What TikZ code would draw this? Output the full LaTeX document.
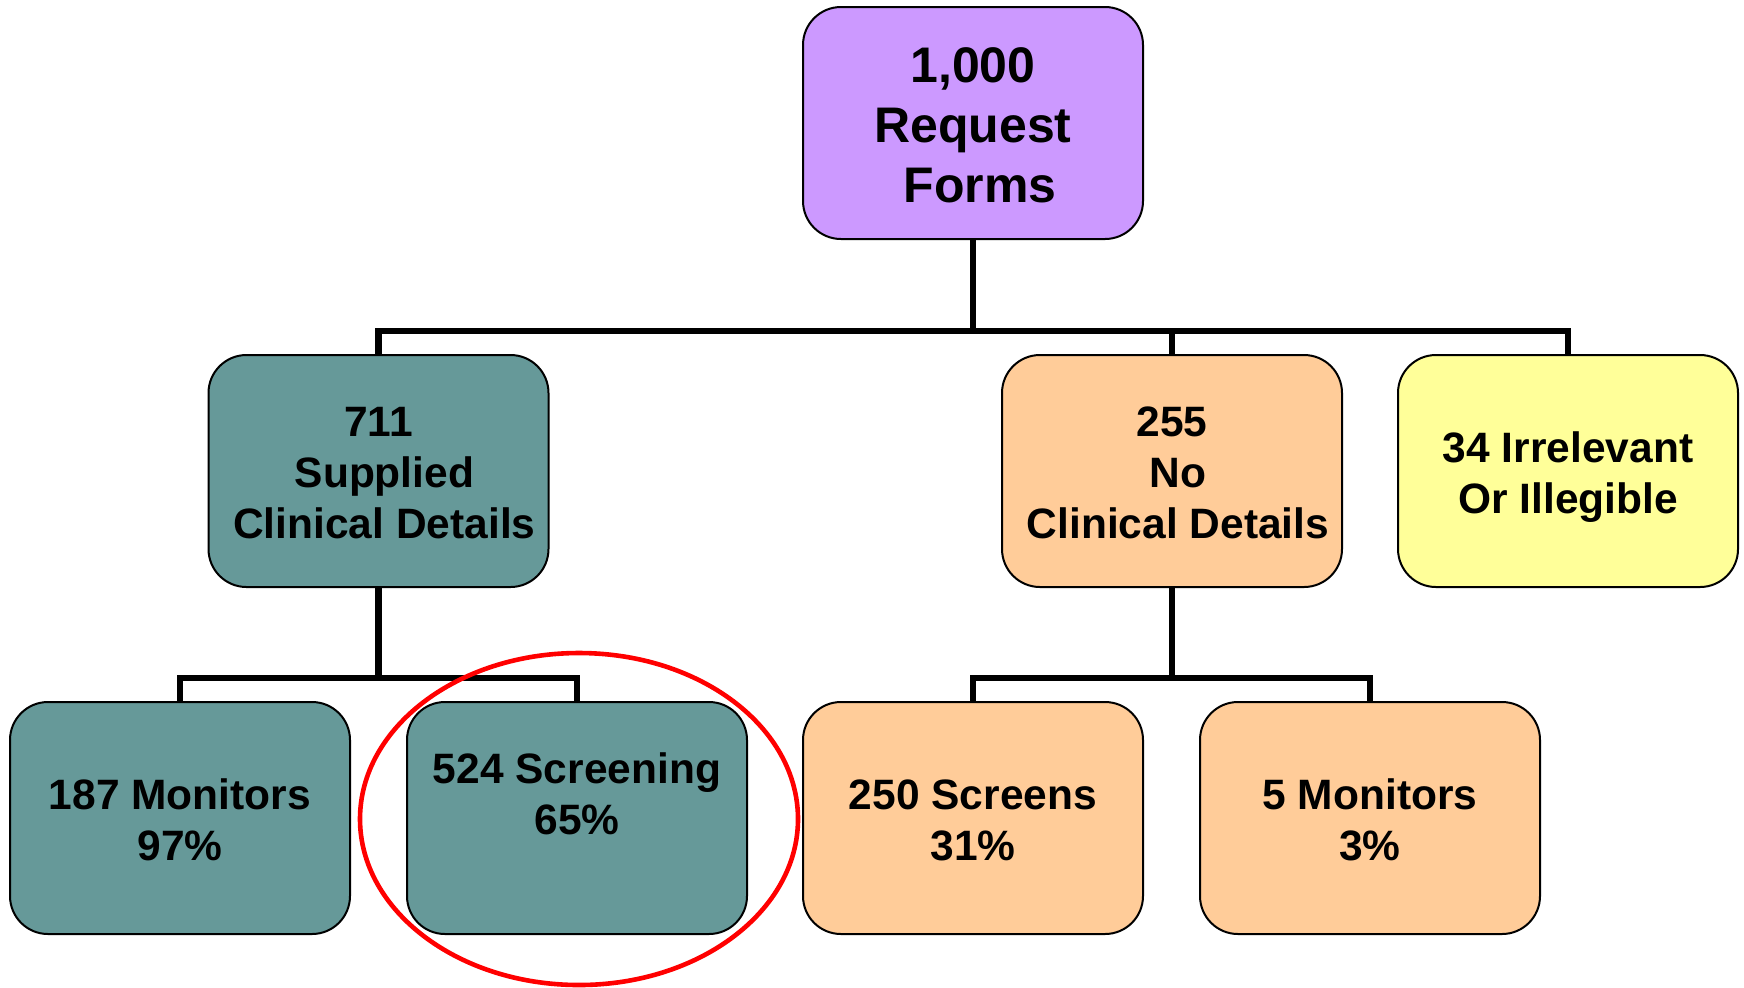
\documentclass[tikz,border=0pt]{standalone}
\usepackage{fontspec}
\setmainfont{Liberation Sans}
\usetikzlibrary{shapes.geometric}
\definecolor{cpurple}{HTML}{CC99FF}
\definecolor{cteal}{HTML}{669999}
\definecolor{cpeach}{HTML}{FFCC99}
\definecolor{cyellow}{HTML}{FFFF99}
\definecolor{cred}{HTML}{FF0000}
\newcommand{\firstup}{\rule{0pt}{0.79em}}
\begin{document}
\begin{tikzpicture}[x=0.5pt,y=-0.5pt,
  box/.style={draw=black, line width=1pt, rounded corners=19pt,
    minimum width=170pt, minimum height=116pt, align=center, inner sep=0pt,
    font=\fontsize{21.25pt}{25.5pt}\selectfont\bfseries},
  bigbox/.style={box, font=\fontsize{25pt}{30pt}\selectfont\bfseries},
  conn/.style={line width=3.3pt, line join=miter},
  hilite/.style={ellipse, draw=cred, line width=2.3pt,
    minimum width=219pt, minimum height=166pt, inner sep=0pt}]
\useasboundingbox (0,0) rectangle (1744,987);
\coordinate (busA) at (0,331);
\coordinate (busB) at (0,678);

\node[bigbox, fill=cpurple] (req) at (973,123) {\firstup1,000\\Request\\\hspace*{0.278em}Forms};
\node[box, fill=cteal] (sup) at (378.5,471) {\firstup711\\\hspace*{0.278em}Supplied\\\hspace*{0.278em}Clinical Details};
\node[box, fill=cpeach] (noc) at (1172,471) {\firstup255\\\hspace*{0.278em}No\\\hspace*{0.278em}Clinical Details};
\node[box, fill=cyellow] (irr) at (1568,471) {\firstup34 Irrelevant\\Or Ille\smash{g}ible};
\node[box, fill=cteal] (mon) at (180,818) {\firstup187 Monitors\\97\%};
\node[box, fill=cteal] (scr) at (577,818) {\firstup524 Screening\\65\%\\\mbox{}};
\node[box, fill=cpeach] (scs) at (973,818) {\firstup250 Screens\\31\%};
\node[box, fill=cpeach] (fmon) at (1370,818) {\firstup5 Monitors\\3\%};

\draw[conn] (req.south) -- (req.south |- busA) -| (sup.north);
\draw[conn] (req.south |- busA) -| (noc.north);
\draw[conn] (req.south |- busA) -| (irr.north);
\draw[conn] (sup.south) -- (sup.south |- busB) -| (mon.north);
\draw[conn] (sup.south |- busB) -| (scr.north);
\draw[conn] (noc.south) -- (noc.south |- busB) -| (scs.north);
\draw[conn] (noc.south |- busB) -| (fmon.north);

\node[hilite] (hl) at (579,819) {};
\end{tikzpicture}
\end{document}
